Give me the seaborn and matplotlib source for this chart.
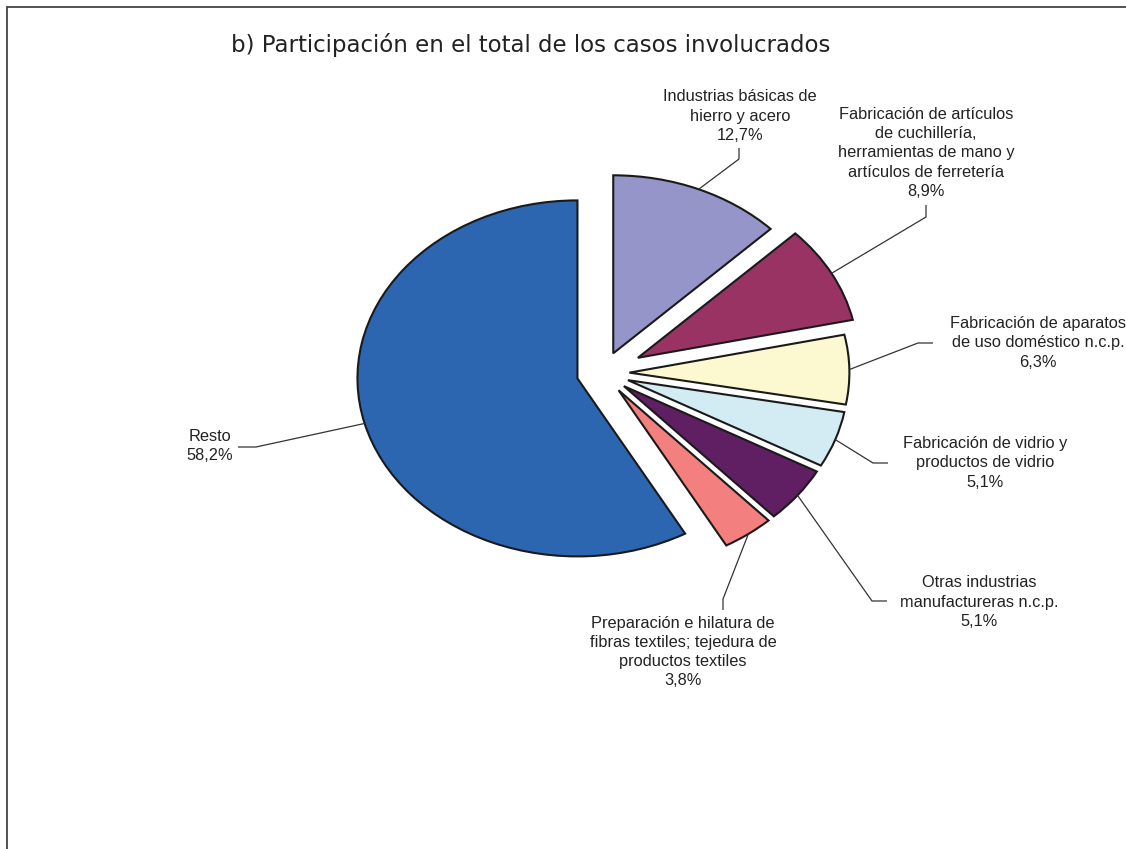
import numpy as np
import matplotlib
matplotlib.use("Agg")
import matplotlib.pyplot as plt
import seaborn as sns
from matplotlib.patches import Rectangle

# ---------------- data ----------------
title = "b) Participación en el total de los casos involucrados"
categories = [
    "Industrias básicas de\nhierro y acero",
    "Fabricación de artículos\nde cuchillería,\nherramientas de mano y\nartículos de ferretería",
    "Fabricación de aparatos\nde uso doméstico n.c.p.",
    "Fabricación de vidrio y\nproductos de vidrio",
    "Otras industrias\nmanufactureras n.c.p.",
    "Preparación e hilatura de\nfibras textiles; tejedura de\nproductos textiles",
    "Resto",
]
shares = [12.7, 8.9, 6.3, 5.1, 5.1, 3.8, 58.2]
pct_labels = ["12,7%", "8,9%", "6,3%", "5,1%", "5,1%", "3,8%", "58,2%"]

# ---------------- style / layout ----------------
colors = ["#9595C9", "#993363", "#FCF9D0", "#D3ECF3", "#601F62", "#F47F7F", "#2C65B0"]
explode = [0.12, 0.18, 0.12, 0.12, 0.12, 0.12, 0.12]

W, H = 1126, 849
CX, CY = 603, 373          # pie centre (pixels)
RX, RY = 220, 178          # pie radii (pixels) -> slightly elliptical

# label centres and leader elbows (pixels)
label_pos = [(740, 116), (926, 153), (1038, 343), (985, 463), (979, 602), (683, 652), (210, 446)]
elbow_end = [(739, 148), (926, 205), (933, 343), (888, 463), (887, 601), (723, 610), (238, 447)]
elbow_mid = [(739, 159), (926, 217), (918, 343), (873, 463), (872, 601), (723, 599), (256, 447)]


def P(x, y):
    return ((x - CX) / RX, (CY - y) / RY)


sns.set_theme(style="white")
plt.rcParams["font.family"] = ["Liberation Sans", "DejaVu Sans"]

fig = plt.figure(figsize=(W / 100, H / 100), dpi=100)
ax = fig.add_axes([0, 0, 1, 1])

wedges, _ = ax.pie(
    shares,
    colors=colors,
    startangle=90,
    counterclock=False,
    explode=explode,
    radius=1,
    center=(0, 0),
    wedgeprops=dict(edgecolor="#1a1a1a", linewidth=1.5),
)
ax.set_aspect("auto")
ax.set_xlim(-CX / RX, (W - CX) / RX)
ax.set_ylim((CY - H) / RY, CY / RY)
ax.axis("off")

for w, lab, pct, lp, e1, e2 in zip(wedges, categories, pct_labels, label_pos, elbow_end, elbow_mid):
    th = np.deg2rad((w.theta1 + w.theta2) / 2)
    cx, cy = w.center
    ax_pt = (cx + w.r * np.cos(th), cy + w.r * np.sin(th))
    p1, p2 = P(*e1), P(*e2)
    ax.plot([p1[0], p2[0], ax_pt[0]], [p1[1], p2[1], ax_pt[1]],
            color="#333333", lw=0.9, solid_capstyle="butt", zorder=5)
    u, v = P(*lp)
    ax.text(u, v, lab + "\n" + pct, ha="center", va="center",
            fontsize=11.8, color="#222222", linespacing=1.36, zorder=6)

fig.text(531 / W, 1 - 45 / H, title, ha="center", va="center",
         fontsize=16.5, color="#222222", family=["DejaVu Sans"])

fig.add_artist(Rectangle((7 / W, -0.1), 1.2, (1 - 7 / H) + 0.1,
                         transform=fig.transFigure, fill=False,
                         edgecolor="#444444", lw=1.3))

fig.savefig("out.png", dpi=100)
